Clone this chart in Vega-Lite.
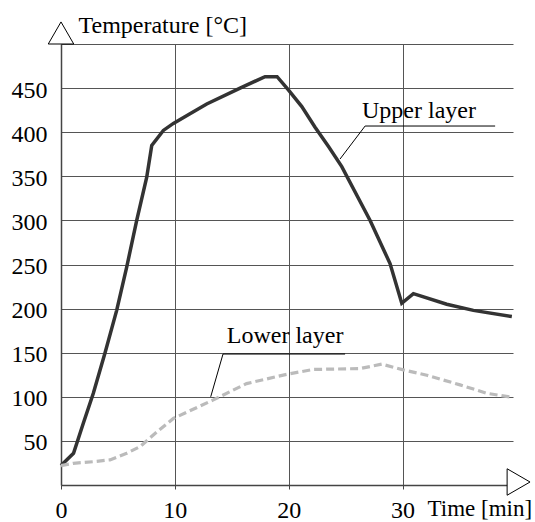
{
  "$schema": "https://vega.github.io/schema/vega-lite/v6.json",
  "width": 452,
  "height": 441,
  "autosize": {"type": "none"},
  "padding": {"left": 61, "top": 44, "right": 22, "bottom": 37},
  "background": "white",
  "config": {
    "view": {"stroke": null},
    "font": "Liberation Serif",
    "axis": {
      "labelFont": "Liberation Serif",
      "labelFontSize": 24,
      "labelColor": "#000",
      "titleFont": "Liberation Serif",
      "titleFontSize": 24,
      "titleFontWeight": "normal",
      "titleColor": "#000",
      "gridColor": "#555",
      "gridWidth": 1,
      "gridOpacity": 1,
      "domainColor": "#444",
      "domainWidth": 1.5,
      "tickColor": "#444"
    }
  },
  "datasets": {
    "upper": [
      {"t": 0, "v": 22}, {"t": 1.1, "v": 36}, {"t": 1.96, "v": 70}, {"t": 2.84, "v": 104},
      {"t": 3.87, "v": 150}, {"t": 4.89, "v": 198}, {"t": 5.77, "v": 247}, {"t": 6.65, "v": 300},
      {"t": 7.53, "v": 349}, {"t": 7.97, "v": 385}, {"t": 8.99, "v": 402}, {"t": 9.87, "v": 410},
      {"t": 11.33, "v": 421}, {"t": 12.8, "v": 432}, {"t": 15.73, "v": 450}, {"t": 17.92, "v": 463},
      {"t": 18.98, "v": 463}, {"t": 19.97, "v": 448}, {"t": 21.15, "v": 429}, {"t": 22.3, "v": 406},
      {"t": 23.48, "v": 384}, {"t": 24.66, "v": 361}, {"t": 27.15, "v": 300}, {"t": 28.9, "v": 251},
      {"t": 29.93, "v": 206}, {"t": 30.95, "v": 217}, {"t": 33.88, "v": 205}, {"t": 36.22, "v": 198},
      {"t": 39.6, "v": 191}
    ],
    "lower": [
      {"t": 0, "v": 22}, {"t": 1.08, "v": 24.6}, {"t": 2.84, "v": 26.4}, {"t": 4.3, "v": 28.5},
      {"t": 5.77, "v": 36}, {"t": 6.94, "v": 43.5}, {"t": 8.41, "v": 60}, {"t": 9.87, "v": 75.5},
      {"t": 13.38, "v": 96.5}, {"t": 16.3, "v": 115}, {"t": 19.83, "v": 125.5}, {"t": 22.16, "v": 131},
      {"t": 26.27, "v": 132}, {"t": 28.17, "v": 137}, {"t": 30.07, "v": 130.5}, {"t": 32.13, "v": 124.5},
      {"t": 35.05, "v": 113.5}, {"t": 37.4, "v": 104}, {"t": 39.6, "v": 99.5}
    ],
    "leaders": [
      {"id": "u1", "t": 24.51, "v": 369.6}, {"id": "u1", "t": 26.71, "v": 407},
      {"id": "u2", "t": 26.71, "v": 407}, {"id": "u2", "t": 38.13, "v": 407},
      {"id": "l1", "t": 13.15, "v": 100}, {"id": "l1", "t": 14.23, "v": 148.5},
      {"id": "l2", "t": 14.23, "v": 148.5}, {"id": "l2", "t": 24.95, "v": 148.5}
    ],
    "labels": [
      {"t": 26.44, "v": 416, "text": "Upper layer"},
      {"t": 14.56, "v": 161, "text": "Lower layer"}
    ],
    "yArrow": [{"t": 0, "v": 512.5}],
    "xArrow": [{"t": 40.19, "v": 3.4}]
  },
  "layer": [
    {
      "data": {"name": "upper"},
      "mark": {"type": "line", "color": "#333", "strokeWidth": 3.5},
      "encoding": {
        "x": {
          "field": "t", "type": "quantitative",
          "scale": {"domain": [0, 39.7], "nice": false, "zero": false},
          "axis": {
            "values": [0, 10, 20, 30],
            "grid": true,
            "tickSize": 4,
            "labelPadding": 9,
            "labelBaseline": "top",
            "labelFlush": false,
            "labelOverlap": false,
            "title": "Time [min]",
            "titleFontSize": 23,
            "titleAlign": "left",
            "titleBaseline": "alphabetic",
            "titleAnchor": null,
            "titleX": 366,
            "titleY": 30
          }
        },
        "y": {
          "field": "v", "type": "quantitative",
          "scale": {"domain": [0, 500], "nice": false},
          "axis": {
            "values": [50, 100, 150, 200, 250, 300, 350, 400, 450, 500],
            "labelExpr": "datum.value == 500 ? '' : datum.label",
            "grid": true,
            "ticks": false,
            "labelPadding": 14,
            "labelOffset": 2,
            "labelOverlap": false,
            "title": "Temperature [°C]",
            "titleAngle": 0,
            "titleAlign": "left",
            "titleBaseline": "alphabetic",
            "titleAnchor": null,
            "titleX": 17,
            "titleY": -12
          }
        }
      }
    },
    {
      "data": {"name": "lower"},
      "mark": {"type": "line", "color": "#bbbbbb", "strokeWidth": 3.2, "strokeDash": [8, 4]},
      "encoding": {
        "x": {"field": "t", "type": "quantitative"},
        "y": {"field": "v", "type": "quantitative"}
      }
    },
    {
      "data": {"name": "leaders"},
      "mark": {"type": "line", "color": "#000", "strokeWidth": 1},
      "encoding": {
        "x": {"field": "t", "type": "quantitative"},
        "y": {"field": "v", "type": "quantitative"},
        "detail": {"field": "id"}
      }
    },
    {
      "data": {"name": "labels"},
      "mark": {"type": "text", "align": "left", "baseline": "alphabetic", "font": "Liberation Serif", "fontSize": 24, "color": "#000"},
      "encoding": {
        "x": {"field": "t", "type": "quantitative"},
        "y": {"field": "v", "type": "quantitative"},
        "text": {"field": "text"}
      }
    },
    {
      "data": {"name": "yArrow"},
      "mark": {"type": "point", "shape": "triangle-up", "size": 650, "filled": true, "fill": "white", "stroke": "#000", "strokeWidth": 1, "opacity": 1, "clip": false},
      "encoding": {
        "x": {"field": "t", "type": "quantitative"},
        "y": {"field": "v", "type": "quantitative"}
      }
    },
    {
      "data": {"name": "xArrow"},
      "mark": {"type": "point", "shape": "triangle-right", "size": 700, "filled": true, "fill": "white", "stroke": "#000", "strokeWidth": 1, "opacity": 1, "clip": false},
      "encoding": {
        "x": {"field": "t", "type": "quantitative"},
        "y": {"field": "v", "type": "quantitative"}
      }
    }
  ]
}
